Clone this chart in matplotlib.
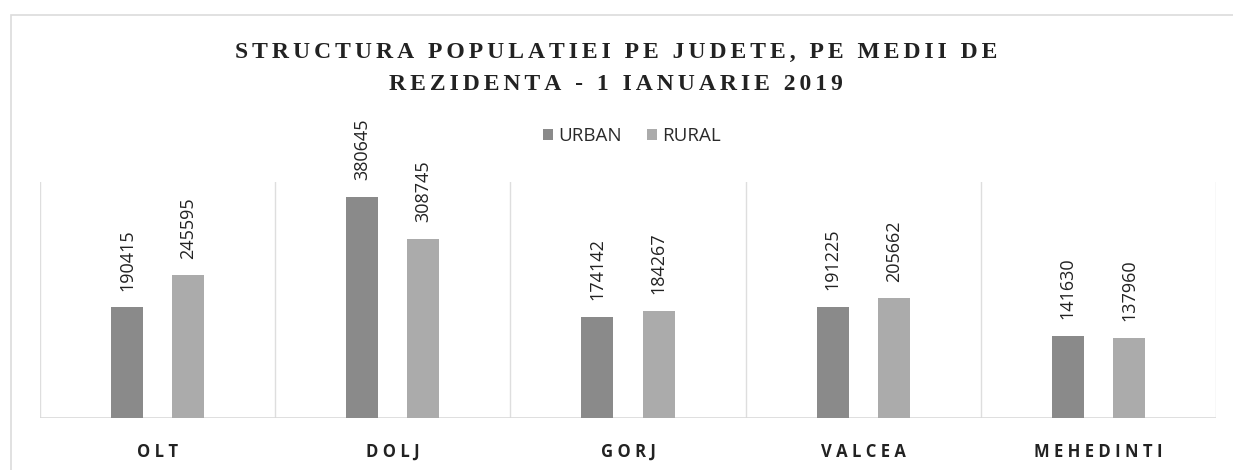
import matplotlib
matplotlib.use("Agg")
import matplotlib.pyplot as plt
from matplotlib.patches import Rectangle
import matplotlib.transforms as mtransforms
import numpy as np

categories = ["OLT", "DOLJ", "GORJ", "VALCEA", "MEHEDINTI"]
urban = [190415, 380645, 174142, 191225, 141630]
rural = [245595, 308745, 184267, 205662, 137960]
series_names = ["URBAN", "RURAL"]
colors = ["#8a8a8a", "#ababab"]
title_lines = ["STRUCTURA POPULATIEI PE JUDETE, PE MEDII DE",
               "REZIDENTA - 1 IANUARIE 2019"]

W, H = 1233, 470
fig = plt.figure(figsize=(W / 100, H / 100), dpi=100)
fig.patch.set_facecolor("white")

# chart frame
fig.add_artist(Rectangle((11 / W, -0.05), 1.2, 1 - 15 / H + 0.05,
                         transform=fig.transFigure, fill=False,
                         edgecolor="#dcdcdc", linewidth=1.2))

ax = fig.add_axes([40 / W, 1 - 418 / H, (1216 - 40) / W, (418 - 182) / H])
x = np.arange(len(categories))
bw = 0.136
off = 0.13
b1 = ax.bar(x - off, urban, bw, color=colors[0], label=series_names[0])
b2 = ax.bar(x + off, rural, bw, color=colors[1], label=series_names[1])

ax.set_xlim(-0.5, len(categories) - 0.5)
ax.set_ylim(0, 406000)
for s in ax.spines.values():
    s.set_visible(False)
ax.set_yticks([])
ax.set_xticks([])
for xv in np.arange(-0.5, len(categories), 1.0):
    ax.axvline(xv, color="#dedede", linewidth=1.0, zorder=0)
ax.axhline(0, color="#d9d9d9", linewidth=1.2, zorder=0)

lab_font = dict(family=["Open Sans", "DejaVu Sans"], size=13, color="#222222")
for bars, vals in ((b1, urban), (b2, rural)):
    for r, v in zip(bars, vals):
        ax.annotate(str(v), (r.get_x() + r.get_width() / 2, v),
                    xytext=(0, 12), textcoords="offset points",
                    rotation=90, ha="center", va="bottom", **lab_font)

cat_tr = mtransforms.blended_transform_factory(ax.transData, fig.transFigure)
for xi, c in zip(x, categories):
    ax.text(xi, 1 - 457 / H, " ".join(c), transform=cat_tr,
            ha="center", va="baseline", fontweight="bold", fontsize=12,
            family=["Open Sans", "DejaVu Sans"], color="#222222")

def spaced(s):
    return "\u200a\u200a".join(s)

for line, yb in zip(title_lines, (58, 90)):
    fig.text(616 / W, 1 - yb / H, spaced(line),
             ha="center", va="baseline",
             family=["Liberation Serif", "DejaVu Serif"],
             fontweight="bold", fontsize=17, color="#222222")

leg = fig.legend(loc="center", bbox_to_anchor=(632 / W, 1 - 136 / H), ncol=2,
                 frameon=False, handlelength=0.55, handleheight=0.55,
                 handletextpad=0.3, columnspacing=1.3,
                 prop=dict(family="Open Sans", size=13.5))
for t in leg.get_texts():
    t.set_color("#2a2a2a")

fig.savefig("out.png", dpi=100, facecolor="white")
